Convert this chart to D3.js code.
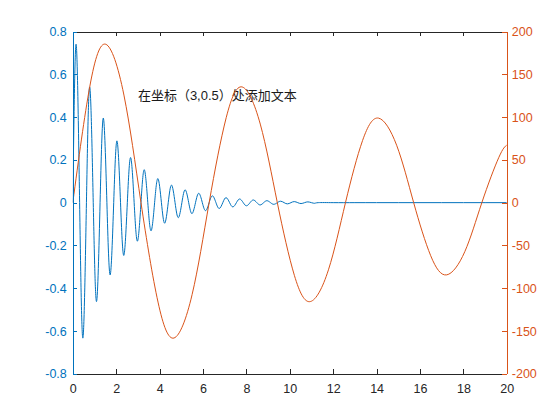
<!DOCTYPE html>
<html>
<head>
<meta charset="utf-8">
<script src="https://cdn.jsdelivr.net/npm/d3@7"></script>
<style>
  html, body { margin: 0; padding: 0; background: #fff; }
  svg { display: block; }
  text { font-family: "Liberation Sans", Arial, sans-serif; }
</style>
</head>
<body>
<svg id="chart" width="560" height="420"></svg>
<script>
// ---- data ----
// x ticks
const xTicks = [0, 2, 4, 6, 8, 10, 12, 14, 16, 18, 20];
const leftTicks = [-0.8, -0.6, -0.4, -0.2, 0, 0.2, 0.4, 0.6, 0.8];
const rightTicks = [-200, -150, -100, -50, 0, 50, 100, 150, 200];

// blue series (left axis): zero crossings and extrema
const blueX = [0, 0.152, 0.314, 0.466, 0.628, 0.780, 0.942, 1.095, 1.257, 1.409, 1.571, 1.723,
  1.885, 2.037, 2.199, 2.351, 2.513, 2.665, 2.827, 2.979, 3.142, 3.294, 3.456, 3.608, 3.770, 3.922,
  4.084, 4.236, 4.398, 4.550, 4.712, 4.864, 5.027, 5.179, 5.341, 5.493, 5.655, 5.807, 5.969, 6.121,
  6.283, 6.435, 6.597, 6.749, 6.912, 7.063, 7.226, 7.378, 7.540, 7.692, 7.854, 8.006, 8.168, 8.320,
  8.482, 8.634, 8.796, 8.948, 9.111, 9.263, 9.425, 9.577, 9.739, 9.891, 10.053, 10.205, 10.367,
  10.519, 10.681, 10.833, 10.996, 11.147, 11.310, 12, 13, 14, 15, 16, 17, 18, 19, 20];
const blueY = [0, 0.7405, 0, -0.6329, 0, 0.5409, 0, -0.4622, 0, 0.3951, 0, -0.3376,
  0, 0.2886, 0, -0.2466, 0, 0.2108, 0, -0.1801, 0, 0.1539, 0, -0.1316, 0, 0.1124,
  0, -0.0961, 0, 0.0821, 0, -0.0702, 0, 0.0600, 0, -0.0513, 0, 0.0438, 0, -0.0375,
  0, 0.0320, 0, -0.0274, 0, 0.0234, 0, -0.0200, 0, 0.0171, 0, -0.0146, 0, 0.0125,
  0, -0.0107, 0, 0.0091, 0, -0.0078, 0, 0.0067, 0, -0.0057, 0, 0.0049, 0,
  -0.0042, 0, 0.0036, 0, -0.0030, 0, 0, 0, 0, 0, 0, 0, 0, 0, 0];

// orange series (right axis)
const orangeX = [0, 0.785, 1.521, 2.356, 3.142, 3.927, 4.663, 5.498, 6.283, 7.069, 7.804, 8.639,
  9.425, 10.21, 10.946, 11.781, 12.566, 13.352, 14.087, 14.923, 15.708, 16.493, 17.229, 18.064,
  18.850, 19.635, 20];
const orangeY = [0, 136.0, 185.1, 125.7, 0, -116.2, -158.2, -107.4, 0, 99.3, 135.2, 91.8,
  0, -84.9, -115.6, -78.5, 0, 72.5, 98.8, 67.1, 0, -62.0, -84.4, -57.3,
  0, 53.0, 67.2];

const noteText = "在坐标（3,0.5）处添加文本";
const noteX = 3, noteY = 0.5;

// ---- layout ----
const BLUE = "#0072BD", ORANGE = "#D95319", DARK = "#262626";
const L = 72.8, R = 506.8, T = 31.5, B = 373.8;
const tickLen = 4.3;
const FS = 12.5;

const svg = d3.select("#chart");
const x = d3.scaleLinear().domain([0, 20]).range([L, R]);
const yL = d3.scaleLinear().domain([-0.8, 0.8]).range([B, T]);
const yR = d3.scaleLinear().domain([-200, 200]).range([B, T]);

svg.append("defs").append("clipPath").attr("id", "clip")
  .append("rect").attr("x", L).attr("y", T).attr("width", R - L).attr("height", B - T);

const plot = svg.append("g").attr("clip-path", "url(#clip)");

// blue line
const blueData = blueX.map((d, i) => [d, blueY[i]]);
plot.append("path")
  .datum(blueData)
  .attr("fill", "none")
  .attr("stroke", BLUE)
  .attr("stroke-width", 1)
  .attr("d", d3.line().x(d => x(d[0])).y(d => yL(d[1])).curve(d3.curveNatural));

// text annotation (in left axes)
svg.append("text")
  .attr("x", x(noteX))
  .attr("y", yL(noteY))
  .attr("dominant-baseline", "central")
  .attr("font-size", 13)
  .attr("fill", "#1a1a1a")
  .style("font-family", '"Liberation Sans", "Noto Sans CJK SC", sans-serif')
  .text(noteText);

// orange line (second axes on top)
const orangeData = orangeX.map((d, i) => [d, orangeY[i]]);
const plot2 = svg.append("g").attr("clip-path", "url(#clip)");
plot2.append("path")
  .datum(orangeData)
  .attr("fill", "none")
  .attr("stroke", ORANGE)
  .attr("stroke-width", 1)
  .attr("d", d3.line().x(d => x(d[0])).y(d => yR(d[1])).curve(d3.curveNatural));

// ---- axes ----
function styleAxis(g, color) {
  g.selectAll("path.domain").attr("stroke", color).attr("shape-rendering", "crispEdges");
  g.selectAll(".tick line").attr("stroke", color).attr("shape-rendering", "crispEdges");
  g.selectAll(".tick text").attr("fill", color).attr("font-size", FS)
    .style("font-family", '"Liberation Sans", Arial, sans-serif');
}

// bottom
const gx = svg.append("g").attr("transform", `translate(0,${B})`)
  .call(d3.axisBottom(x).tickValues(xTicks).tickFormat(d => String(d))
    .tickSizeInner(-tickLen).tickSizeOuter(0).tickPadding(10));
styleAxis(gx, DARK);

// top
const gt = svg.append("g").attr("transform", `translate(0,${T})`)
  .call(d3.axisTop(x).tickValues(xTicks).tickFormat("")
    .tickSizeInner(-tickLen).tickSizeOuter(0));
styleAxis(gt, DARK);

// left
const gl = svg.append("g").attr("transform", `translate(${L},0)`)
  .call(d3.axisLeft(yL).tickValues(leftTicks).tickFormat(d => String(+d.toFixed(1)))
    .tickSizeInner(-tickLen).tickSizeOuter(0).tickPadding(6));
styleAxis(gl, BLUE);

// right
const gr = svg.append("g").attr("transform", `translate(${R},0)`)
  .call(d3.axisRight(yR).tickValues(rightTicks).tickFormat(d => String(d))
    .tickSizeInner(-tickLen).tickSizeOuter(0).tickPadding(5));
styleAxis(gr, ORANGE);
</script>
</body>
</html>
